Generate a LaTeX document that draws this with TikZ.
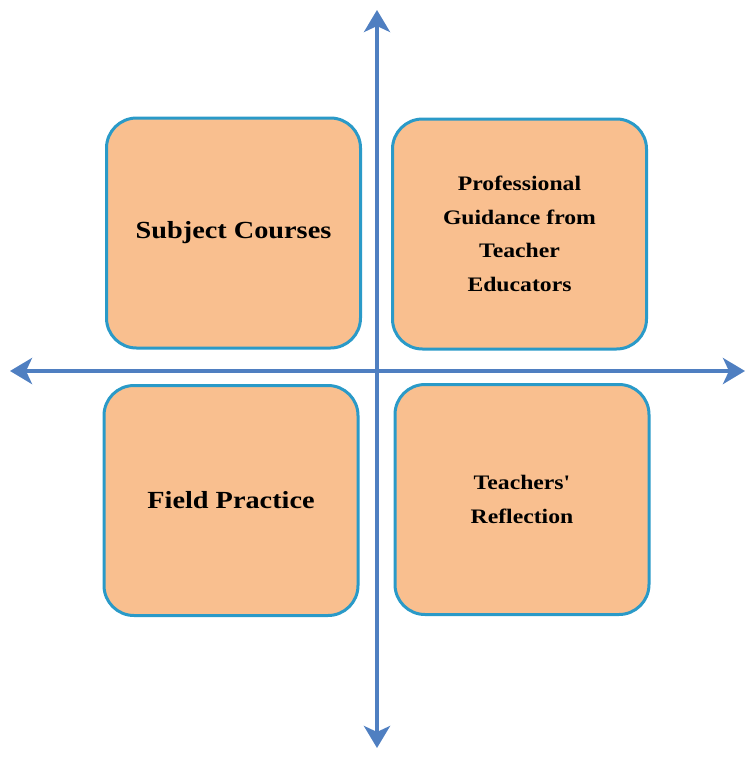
\documentclass[tikz,border=0pt]{standalone}
\usepackage{fontspec}
\usepackage{xcolor}
\usepackage{tikz}
\usetikzlibrary{arrows.meta}
\newfontfamily\quadfont{Liberation Serif}[FakeStretch=1.15]
\definecolor{peach}{HTML}{F9BF8F}
\definecolor{rimblue}{HTML}{2A9AC8}
\definecolor{axisblue}{HTML}{4F7FC1}

\begin{document}
\begin{tikzpicture}[
  x=0.5pt, y=-0.5pt,
  quad/.style={draw=rimblue, fill=peach, line width=1.5pt, rounded corners=15pt, minimum width=127pt, minimum height=115pt, align=center, text=black},
  bigtext/.style={font=\quadfont\bfseries\fontsize{12.3}{14}\selectfont},
  smalltext/.style={font=\quadfont\bfseries\fontsize{10.3}{16.8}\selectfont},
  axis/.style={{Stealth[length=11pt, width=13pt, inset=3pt]}-{Stealth[length=11pt, width=13pt, inset=3pt]}, line width=2pt, draw=axisblue},
]
\useasboundingbox (0,0) rectangle (747,757);

\node[quad, bigtext]   (subj)  at (233.5,233) {Subject Courses};
\node[quad, smalltext] (guide) at (519.5,234) {Professional\\Guidance from\\Teacher\\Educators};
\node[quad, bigtext]   (field) at (231,500.5) {Field Practice};
\node[quad, smalltext] (refl)  at (522,499.5) {Teachers'\\Reflection};

\coordinate (top)    at (377,10);
\coordinate (bottom) at (377,748);
\coordinate (left)   at (10,371);
\coordinate (right)  at (745,371);

\draw[axis] (bottom) -- (top);
\draw[axis] (left) -- (right);
\end{tikzpicture}
\end{document}
